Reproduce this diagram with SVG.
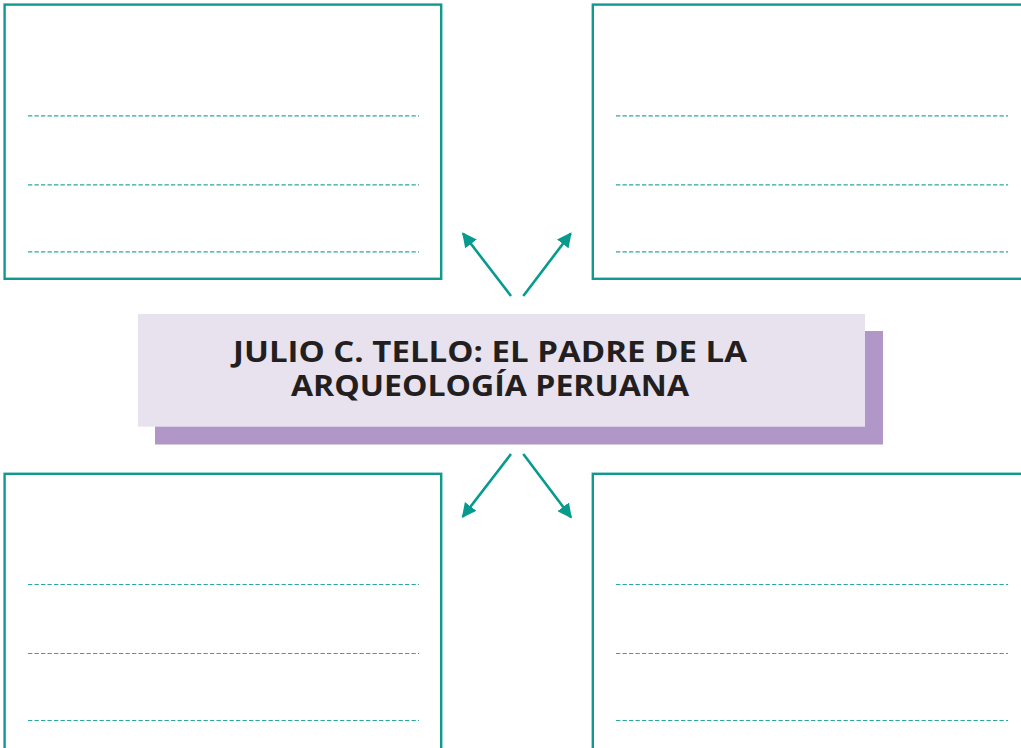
<svg xmlns="http://www.w3.org/2000/svg" width="1021" height="748" viewBox="0 0 1021 748">
<defs>
<style>
.box{fill:#ffffff;stroke:#12998f;stroke-width:2.4}
.dash{stroke:#2aa9a0;stroke-width:1.2;stroke-dasharray:4.3 2.2;fill:none}
.conn{stroke:#079a8e;stroke-width:2.6;fill:none}
.title{font-family:"Open Sans","DejaVu Sans",sans-serif;font-weight:700;font-size:28px;fill:#231f20}
</style>
<marker id="ah" viewBox="0 0 10 10" refX="9" refY="5" markerWidth="5.6" markerHeight="5.6" markerUnits="strokeWidth" orient="auto">
<path d="M0,0 L10,5 L0,10 Z" fill="#079a8e"/>
</marker>
</defs>
<rect width="1021" height="748" fill="#ffffff"/>
<g id="box-top-left">
<rect class="box" x="4.6" y="4.6" width="436.6" height="274.2"/>
<line class="dash" x1="28" y1="115.8" x2="419" y2="115.8"/>
<line class="dash" x1="28" y1="184.8" x2="419" y2="184.8"/>
<line class="dash" x1="28" y1="251.8" x2="419" y2="251.8"/>
</g>
<g id="box-top-right">
<rect class="box" x="592.8" y="4.6" width="440" height="274.2"/>
<line class="dash" x1="616" y1="115.8" x2="1008" y2="115.8"/>
<line class="dash" x1="616" y1="184.8" x2="1008" y2="184.8"/>
<line class="dash" x1="616" y1="251.8" x2="1008" y2="251.8"/>
</g>
<g id="box-bottom-left">
<rect class="box" x="4.6" y="473.8" width="436.6" height="280"/>
<line class="dash" x1="28" y1="584.5" x2="419" y2="584.5"/>
<line class="dash" x1="28" y1="653.5" x2="419" y2="653.5"/>
<line class="dash" x1="28" y1="720.5" x2="419" y2="720.5"/>
</g>
<g id="box-bottom-right">
<rect class="box" x="592.8" y="473.8" width="440" height="280"/>
<line class="dash" x1="616" y1="584.5" x2="1008" y2="584.5"/>
<line class="dash" x1="616" y1="653.5" x2="1008" y2="653.5"/>
<line class="dash" x1="616" y1="720.5" x2="1008" y2="720.5"/>
</g>
<g id="title">
<rect x="155" y="331" width="728" height="113.5" fill="#b097c8"/>
<rect x="138" y="314" width="727" height="112.7" fill="#e8e2ef"/>
<text class="title" x="490" y="361.7" text-anchor="middle" textLength="514" lengthAdjust="spacingAndGlyphs">JULIO C. TELLO: EL PADRE DE LA</text>
<text class="title" x="490" y="395.7" text-anchor="middle" textLength="398" lengthAdjust="spacingAndGlyphs">ARQUEOLOGÍA PERUANA</text>
</g>
<g id="connectors">
<line class="conn" x1="511" y1="296" x2="463" y2="233.5" marker-end="url(#ah)"/>
<line class="conn" x1="523.3" y1="296" x2="570.7" y2="233.5" marker-end="url(#ah)"/>
<line class="conn" x1="511" y1="454" x2="462.7" y2="516.8" marker-end="url(#ah)"/>
<line class="conn" x1="523.3" y1="454" x2="571" y2="517.3" marker-end="url(#ah)"/>
</g>
</svg>
